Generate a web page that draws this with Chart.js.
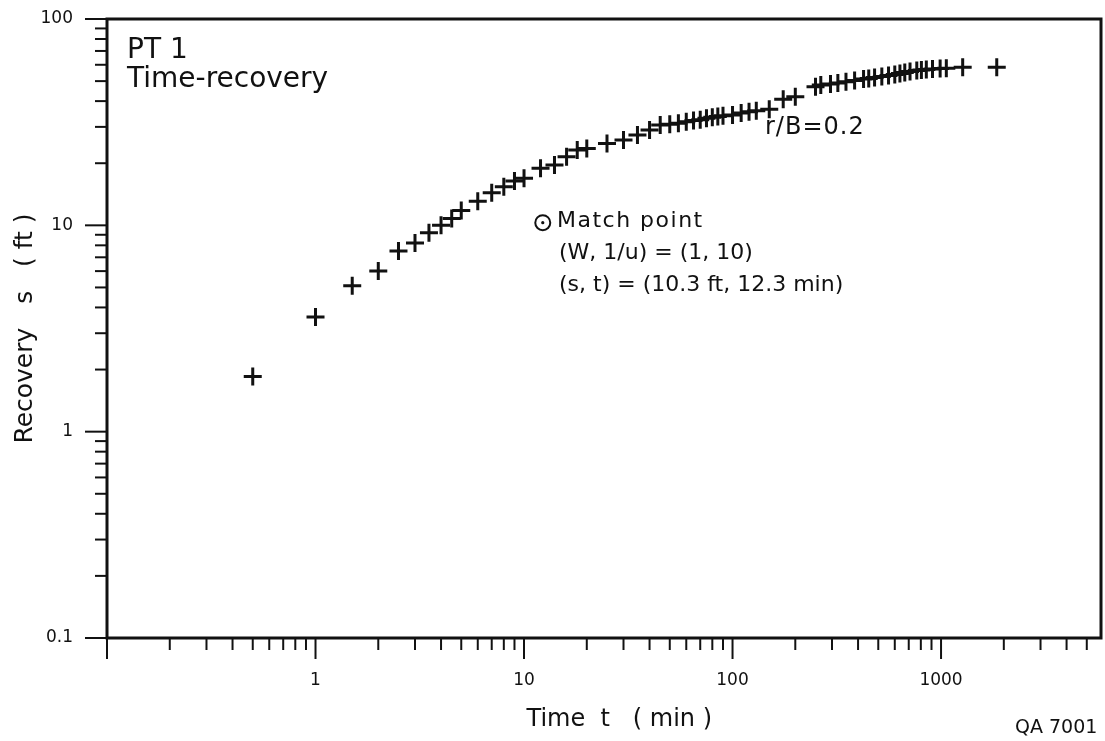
<!DOCTYPE html>
<html lang="en">
<head>
<meta charset="UTF-8">
<title>PT 1 Time-recovery</title>
<script src="https://cdn.jsdelivr.net/npm/chart.js@4.4.1/dist/chart.umd.min.js"></script>
<style>
  body { margin: 0; background: #fff; }
  #wrap { width: 1105px; height: 741px; }
</style>
</head>
<body>
<div id="wrap"><canvas id="myChart"></canvas></div>
<script>
// time since pumping stopped (min) and recovery (ft)
const timeMin = [0.5, 1, 1.5, 2, 2.5, 3, 3.5, 4, 4.5, 5,
  6, 7, 8, 9, 10, 12, 14, 16, 18, 20,
  25, 30, 35, 40, 45, 50, 55, 60, 65, 70,
  75, 80, 85, 90, 100, 110, 120, 130, 150, 175,
  200, 250, 265, 295, 320, 350, 385, 425, 450, 480,
  520, 560, 600, 635, 670, 710, 765, 805, 850, 910,
  990, 1060, 1270, 1850];
const recoveryFt = [1.85, 3.6, 5.1, 6.0, 7.5, 8.2, 9.2, 10.0, 10.8, 11.8,
  13.1, 14.4, 15.4, 16.4, 16.9, 18.9, 19.6, 21.5, 23.2, 23.6,
  24.9, 25.9, 27.4, 29.0, 30.6, 30.9, 31.2, 31.8, 32.2, 32.5,
  33.0, 33.4, 33.7, 34.0, 34.3, 35.0, 35.5, 35.9, 36.5, 40.8,
  42.0, 47.0, 47.9, 48.4, 49.0, 49.6, 50.4, 51.2, 51.5, 52.1,
  52.6, 53.2, 53.8, 54.4, 55.0, 55.7, 56.3, 56.6, 56.9, 57.2,
  57.6, 57.7, 58.3, 58.3];

// match point (s, t) = (10.3 ft, 12.3 min)
const matchT = [12.3];
const matchS = [10.3];

const xTickLabels = [1, 10, 100, 1000];
const yTickLabels = [0.1, 1, 10, 100];

const ink = '#111';
Chart.defaults.font.family = 'DejaVu Sans';
Chart.defaults.color = ink;

function f_isPow10(v) {
  const e = Math.log10(v);
  return Math.abs(e - Math.round(e)) < 1e-6;
}
function f_label(list, v) {
  const hit = list.find(l => Math.abs(l - v) < l * 1e-6);
  return hit === undefined ? '' : String(hit);
}
// keep only 1..9 x 10^n ticks (drop the odd max value)
function f_wholeTicks(scale) {
  scale.ticks = scale.ticks.filter(t => {
    const m = t.value / Math.pow(10, Math.floor(Math.log10(t.value) + 1e-9));
    return Math.abs(m - Math.round(m)) < 1e-6;
  });
}

const paperPlugin = {
  id: 'paper',
  beforeDraw(chart) {
    const c = chart.ctx;
    c.save();
    c.fillStyle = '#fff';
    c.fillRect(0, 0, chart.width, chart.height);
    c.restore();
  },
  afterDraw(chart) {
    const c = chart.ctx;
    const a = chart.chartArea;
    const sx = chart.scales.x, sy = chart.scales.y;
    c.save();
    c.strokeStyle = ink;
    c.lineWidth = 2;
    // tick marks, outside the frame
    sx.ticks.forEach(t => {
      const px = sx.getPixelForValue(t.value);
      const len = f_isPow10(t.value) ? 21 : 12;
      c.beginPath(); c.moveTo(px, a.bottom); c.lineTo(px, a.bottom + len); c.stroke();
    });
    sy.ticks.forEach(t => {
      const py = sy.getPixelForValue(t.value);
      const len = f_isPow10(t.value) ? 22 : 12;
      c.beginPath(); c.moveTo(a.left, py); c.lineTo(a.left - len, py); c.stroke();
    });
    // frame
    c.lineWidth = 3;
    c.strokeRect(a.left, a.top, a.right - a.left, a.bottom - a.top);

    // texts
    c.fillStyle = ink;
    c.textBaseline = 'alphabetic';
    c.textAlign = 'left';
    c.font = '28px "DejaVu Sans"';
    c.fillText('PT 1', 127, 58);
    c.fillText('Time-recovery', 127, 87);

    c.font = '24px "DejaVu Sans"';
    c.letterSpacing = '1px';
    c.fillText('r/B=0.2', 765, 134);

    c.font = '22px "DejaVu Sans"';
    c.letterSpacing = '1.5px';
    c.fillText('Match point', 557, 227);
    c.letterSpacing = '0px';
    c.fillText('(W, 1/u) = (1, 10)', 559, 259);
    c.fillText('(s, t) = (10.3 ft, 12.3 min)', 559, 291);

    c.font = '19px "DejaVu Sans"';
    c.fillText('QA 7001', 1015, 733);
    c.restore();
  }
};

const ctx = document.getElementById('myChart');
const myChart = new Chart(ctx, {
  type: 'scatter',
  data: {
    datasets: [{
      label: 'recovery',
      data: timeMin.map((t, i) => ({ x: t, y: recoveryFt[i] })),
      pointStyle: 'cross',
      pointRadius: 9,
      pointHoverRadius: 9,
      pointBorderWidth: 3,
      borderColor: ink,
      backgroundColor: ink
    }, {
      label: 'match point',
      data: matchT.map((t, i) => ({ x: t, y: matchS[i] })),
      pointStyle: 'circle',
      pointRadius: 7.5,
      pointBorderWidth: 2,
      borderColor: ink,
      backgroundColor: 'rgba(0,0,0,0)'
    }, {
      label: 'match dot',
      data: matchT.map((t, i) => ({ x: t, y: matchS[i] })),
      pointStyle: 'circle',
      pointRadius: 1.6,
      pointBorderWidth: 0,
      backgroundColor: ink
    }]
  },
  options: {
    responsive: true,
    maintainAspectRatio: false,
    animation: false,
    events: [],
    layout: { autoPadding: false, padding: { left: 0, top: 19, right: 4, bottom: 0 } },
    plugins: { legend: { display: false }, tooltip: { enabled: false } },
    scales: {
      x: {
        type: 'logarithmic',
        position: 'bottom',
        min: 0.1,
        max: 5850,
        afterBuildTicks: f_wholeTicks,
        afterFit: s => { s.height = 103; },
        // invisible tick space pushes the labels down; real ticks drawn by the plugin
        grid: { drawOnChartArea: false, drawTicks: true, tickLength: 28, tickColor: 'rgba(0,0,0,0)' },
        border: { display: false },
        ticks: {
          autoSkip: false,
          maxRotation: 0,
          padding: 4,
          font: { size: 17 },
          color: ink,
          callback: v => f_label(xTickLabels, v)
        },
        title: {
          display: true,
          text: '    Time  t   ( min )',
          font: { size: 24 },
          color: ink,
          padding: { top: 0, bottom: 7 }
        }
      },
      y: {
        type: 'logarithmic',
        min: 0.1,
        max: 100,
        afterBuildTicks: f_wholeTicks,
        afterFit: s => { s.width = 107; },
        grid: { drawOnChartArea: false, drawTicks: true, tickLength: 30, tickColor: 'rgba(0,0,0,0)' },
        border: { display: false },
        ticks: {
          autoSkip: false,
          padding: 4,
          font: { size: 17 },
          color: ink,
          callback: v => f_label(yTickLabels, v)
        },
        title: {
          display: true,
          text: 'Recovery   s   ( ft )',
          font: { size: 25 },
          color: ink,
          padding: { top: 10, bottom: 0 }
        }
      }
    }
  },
  plugins: [paperPlugin]
});
</script>
</body>
</html>
